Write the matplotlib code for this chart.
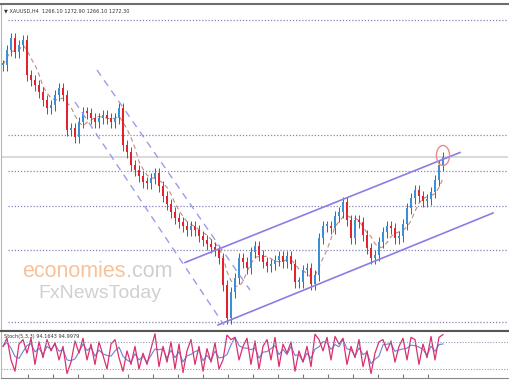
import numpy as np
import pandas as pd
import matplotlib
matplotlib.use("Agg")
import matplotlib.pyplot as plt
from matplotlib.patches import Ellipse

# XAUUSD H4 closes, one per candle
closes = [1290.7, 1293.7, 1296.1, 1293.3, 1294.7, 1295.7, 1288.7, 1287.7, 1286.7, 1285.3,
          1283.7, 1282.1, 1282.7, 1284.7, 1286.1, 1284.7, 1277.7, 1278.1, 1276.3, 1279.3,
          1281.3, 1281.1, 1280.1, 1279.3, 1280.1, 1280.7, 1280.1, 1279.3, 1280.1, 1282.1,
          1274.7, 1273.3, 1270.7, 1269.7, 1268.5, 1267.3, 1267.1, 1268.1, 1269.1, 1266.5,
          1264.5, 1262.9, 1261.3, 1260.1, 1259.3, 1258.5, 1257.7, 1258.5, 1257.7, 1256.5,
          1255.7, 1254.9, 1254.3, 1253.7, 1252.1, 1246.7, 1240.1, 1245.3, 1248.1, 1252.1,
          1251.3, 1250.1, 1253.3, 1254.5, 1252.7, 1251.3, 1250.5, 1250.9, 1251.7, 1252.5,
          1251.3, 1252.5, 1250.9, 1247.3, 1247.3, 1249.7, 1250.1, 1246.9, 1248.7, 1256.1,
          1258.5, 1258.5, 1258.1, 1260.5, 1261.3, 1263.3, 1259.7, 1256.1, 1259.7, 1259.3,
          1256.7, 1254.1, 1252.1, 1252.7, 1255.3, 1257.3, 1258.5, 1258.1, 1256.1, 1256.5,
          1258.9, 1262.1, 1264.1, 1265.7, 1264.5, 1263.5, 1263.9, 1265.3, 1267.7, 1270.7,
          1272.3]

# stochastic %K, one per candle
stoch_k = [70, 88, 40, 15, 75, 85, 55, 88, 30, 80, 45, 85, 60, 78, 40, 70, 10, 35, 82, 55,
           88, 40, 75, 30, 80, 50, 20, 75, 85, 45, 15, 60, 30, 70, 20, 55, 30, 65, 98, 25,
           70, 35, 80, 20, 75, 12, 60, 85, 30, 70, 15, 65, 35, 78, 20, 40, 95, 85, 90, 40,
           70, 88, 30, 82, 20, 70, 85, 40, 90, 25, 75, 55, 80, 15, 60, 35, 70, 25, 97, 85,
           60, 90, 40, 92, 75, 88, 30, 70, 45, 85, 25, 60, 10, 55, 80, 85, 60, 82, 35, 70,
           88, 40, 90, 85, 30, 75, 45, 92, 40, 90, 96]

# horizontal support / resistance levels
levels = [1299.7, 1276.7, 1269.5, 1262.5, 1253.7, 1239.3]
last_price = 1272.3

# rising channel (index, price) end points
rise_upper = ([45.5, 114.25], [1251.2, 1273.2])
rise_lower = ([53.75, 122.5], [1238.7, 1261.1])
# falling channel
fall_upper = ([23.5, 61.75], [1289.7, 1245.7])
fall_lower = ([18.0, 55.25], [1283.3, 1238.7])

title_txt = "\u25bc XAUUSD,H4  1266.10 1272.90 1266.10 1272.30"
stoch_txt = "Stoch(5,3,3) 94.1643 94.9979"

W, H = 509, 380
fig = plt.figure(figsize=(W / 100, H / 100), dpi=100)


def px_axes(x0, y0, x1, y1):
    return fig.add_axes([x0 / W, 1 - y1 / H, (x1 - x0) / W, (y1 - y0) / H])


ax = px_axes(1, 4, 508, 330)
ax2 = px_axes(1, 331, 508, 378)

c = np.array(closes)
o = np.r_[c[0], c[:-1]]
x = np.arange(len(c))
up = c >= o
cols = np.where(up, "#3b8fd6", "#e5222c")
wick = 1.1
# wicks drawn red, like the reference's candle outlines
ax.vlines(x, np.minimum(o, c) - wick, np.maximum(o, c) + wick, colors="#e5222c", lw=0.7, zorder=3)
ax.bar(x, np.maximum(np.abs(c - o), 0.4), bottom=np.minimum(o, c), width=0.5,
       color=cols, zorder=3, linewidth=0)

ma = pd.Series(c).rolling(5, min_periods=1).mean()
ax.plot(x, ma, color="#c08a82", lw=0.8, ls=(0, (4, 3)), zorder=2)

for lv in levels:
    ax.axhline(lv, xmin=0.014, color="#8585b5", lw=0.9, ls=(0, (1, 1.5)), zorder=1)
ax.axhline(last_price, color="#d9d9d9", lw=1.4, zorder=1)

ax.plot(*rise_upper, color="#8a7de4", lw=1.2, zorder=4)
ax.plot(*rise_lower, color="#8a7de4", lw=1.2, zorder=4)
ax.plot(*fall_upper, color="#9c9ce8", lw=1.0, ls=(0, (5, 4)), zorder=4)
ax.plot(*fall_lower, color="#9c9ce8", lw=1.0, ls=(0, (5, 4)), zorder=4)

ax.add_patch(Ellipse((x[-1], last_price + 0.3), 3.3, 4.0, fill=False,
                     ec="#ec8a8a", lw=1.0, zorder=5))

ax.set_xlim(-0.5, 126.25)
ax.set_ylim(1237.7, 1302.9)
ax.set_xticks([])
ax.set_yticks([])
ax.spines["top"].set_color("#6e6e6e")
ax.spines["top"].set_linewidth(1.5)
ax.spines["left"].set_color("#b5b5b5")
ax.spines["bottom"].set_color("#9a9a9a")
ax.spines["right"].set_visible(False)

ax.text(0.006, 0.985, title_txt, transform=ax.transAxes, fontsize=3.6,
        color="#333333", va="top", ha="left")

# watermark
t1 = fig.text(22 / W, 1 - 277 / H, "economies", fontsize=15.5, color="#f7c29a",
              family="Liberation Sans", va="baseline", ha="left")
ax.annotate(".com", xy=(1, 0), xycoords=t1, fontsize=15.5, color="#cfcfcf",
            family="Liberation Sans", va="bottom", ha="left")
fig.text(38 / W, 1 - 298 / H, "FxNewsToday", fontsize=14, color="#d0d0d0",
         family="Liberation Sans", va="baseline", ha="left")

# stochastic panel
k = pd.Series(stoch_k, dtype=float)
d = k.rolling(3, min_periods=1).mean()
ax2.plot(x, d, color="#6f7fd8", lw=0.8)
ax2.plot(x, k, color="#d9306f", lw=0.9)
for lv in (80, 20):
    ax2.axhline(lv, color="#9a9ab5", lw=0.8, ls=(0, (1, 1.5)))
ax2.set_xlim(-0.5, 126.25)
ax2.set_ylim(0, 104)
ax2.set_yticks([])
ax2.set_xticks(np.arange(6.25, 110, 6.25))
ax2.tick_params(axis="x", direction="in", length=3, color="#777777", labelbottom=False)
ax2.spines["top"].set_color("#555555")
ax2.spines["top"].set_linewidth(1.5)
ax2.spines["left"].set_color("#b5b5b5")
ax2.spines["bottom"].set_color("#888888")
ax2.spines["right"].set_visible(False)
ax2.text(0.006, 0.93, stoch_txt, transform=ax2.transAxes, fontsize=3.6,
         color="#333333", va="top", ha="left")

fig.savefig("out.png", dpi=100)
